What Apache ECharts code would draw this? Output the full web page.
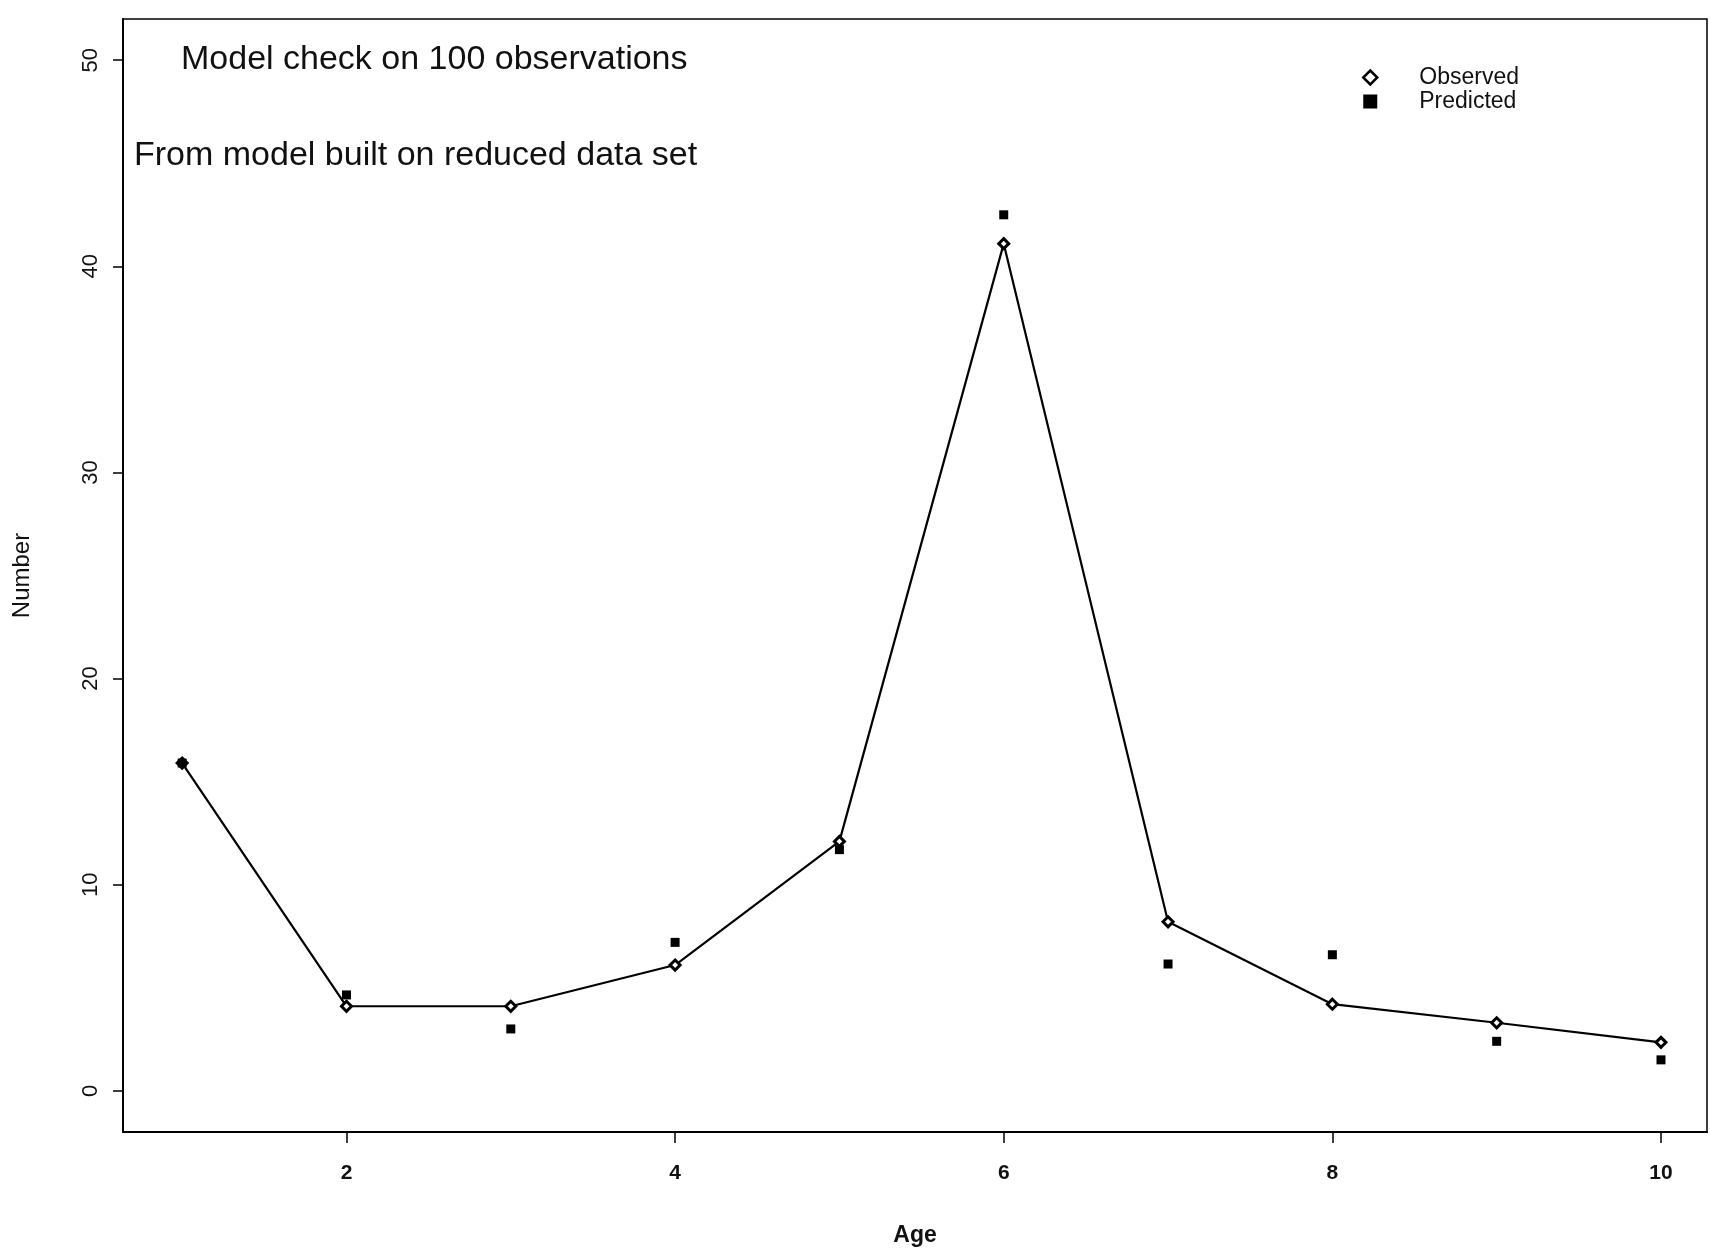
<!DOCTYPE html>
<html>
<head>
<meta charset="utf-8">
<title>Model check on 100 observations</title>
<script src="https://cdn.jsdelivr.net/npm/echarts@6/dist/echarts.min.js"></script>
<style>
  html, body { margin: 0; padding: 0; background: #fff; }
  #container { width: 1710px; height: 1252px; }
</style>
</head>
<body>
<div id="container"></div>
<script>
// ages on the x axis
var ages = [1, 2, 3, 4, 5, 6, 7, 8, 9, 10];
// observed counts (joined by the line)
var observed = [15.9, 4.1, 4.1, 6.1, 12.1, 41.1, 8.2, 4.2, 3.3, 2.35];
// predicted counts (filled squares)
var predicted = [15.9, 4.65, 3.0, 7.2, 11.7, 42.5, 6.15, 6.6, 2.4, 1.5];
// tick labels
var xTicks = [2, 4, 6, 8, 10];
var yTicks = [0, 10, 20, 30, 40, 50];

var FONT = '"Liberation Sans", Arial, Helvetica, sans-serif';

var dom = document.getElementById('container');
var myChart = echarts.init(dom);

function pairs(vals) {
  return ages.map(function (a, i) { return [a, vals[i]]; });
}

var option = {
  backgroundColor: '#fff',
  animation: false,
  textStyle: { fontFamily: FONT, color: '#111' },
  title: [{
    text: 'Model check on 100 observations',
    left: 181,
    top: 40,
    padding: 0,
    textStyle: { fontFamily: FONT, fontSize: 34, fontWeight: 'normal', color: '#111', lineHeight: 40 }
  }, {
    text: 'From model built on reduced data set',
    left: 134,
    top: 136,
    padding: 0,
    textStyle: { fontFamily: FONT, fontSize: 34, fontWeight: 'normal', color: '#111', lineHeight: 40 }
  }],
  legend: {
    orient: 'vertical',
    left: 1362,
    top: 66,
    padding: 0,
    itemWidth: 14,
    itemHeight: 14,
    itemGap: 1,
    textStyle: { fontFamily: FONT, fontSize: 23, color: '#111', padding: [0, 0, 0, 37] },
    data: [
      { name: 'Observed', icon: 'diamond', itemStyle: { color: '#fff', borderColor: '#000', borderWidth: 2.5 } },
      { name: 'Predicted', icon: 'rect', itemStyle: { color: '#000', opacity: 1 } }
    ]
  },
  grid: {
    left: 123,
    right: 3,
    top: 19,
    bottom: 119,
    show: true,
    borderColor: '#000',
    borderWidth: 1.5,
    containLabel: false
  },
  xAxis: {
    type: 'value',
    min: 0.64,
    max: 10.28,
    name: 'Age',
    nameLocation: 'middle',
    nameGap: 92,
    nameTextStyle: { fontFamily: FONT, fontSize: 23, fontWeight: 'bold', color: '#111' },
    splitLine: { show: false },
    axisLine: { show: true, onZero: false, lineStyle: { color: '#000', width: 2 } },
    axisTick: { show: true, length: 11, customValues: xTicks, lineStyle: { color: '#000', width: 1.5 } },
    axisLabel: { customValues: xTicks, margin: 31, fontFamily: FONT, fontSize: 21, fontWeight: 'bold', color: '#111' }
  },
  yAxis: {
    type: 'value',
    min: -2,
    max: 52,
    name: 'Number',
    nameLocation: 'middle',
    nameRotate: 90,
    nameGap: 89,
    nameTextStyle: { fontFamily: FONT, fontSize: 24, color: '#111' },
    splitLine: { show: false },
    axisLine: { show: true, onZero: false, lineStyle: { color: '#000', width: 2 } },
    axisTick: { show: true, length: 10, customValues: yTicks, lineStyle: { color: '#000', width: 1.5 } },
    axisLabel: { customValues: yTicks, rotate: 90, margin: 21, fontFamily: FONT, fontSize: 22, color: '#111' }
  },
  series: [{
    name: 'Observed',
    type: 'line',
    data: pairs(observed),
    symbol: 'diamond',
    symbolSize: 10,
    showAllSymbol: true,
    lineStyle: { color: '#000', width: 2.2 },
    itemStyle: { color: '#fff', borderColor: '#000', borderWidth: 3 },
    z: 3
  }, {
    name: 'Predicted',
    type: 'scatter',
    data: pairs(predicted),
    symbol: 'rect',
    symbolSize: 9,
    itemStyle: { color: '#000', opacity: 1 },
    z: 4
  }]
};

myChart.setOption(option);
</script>
</body>
</html>
